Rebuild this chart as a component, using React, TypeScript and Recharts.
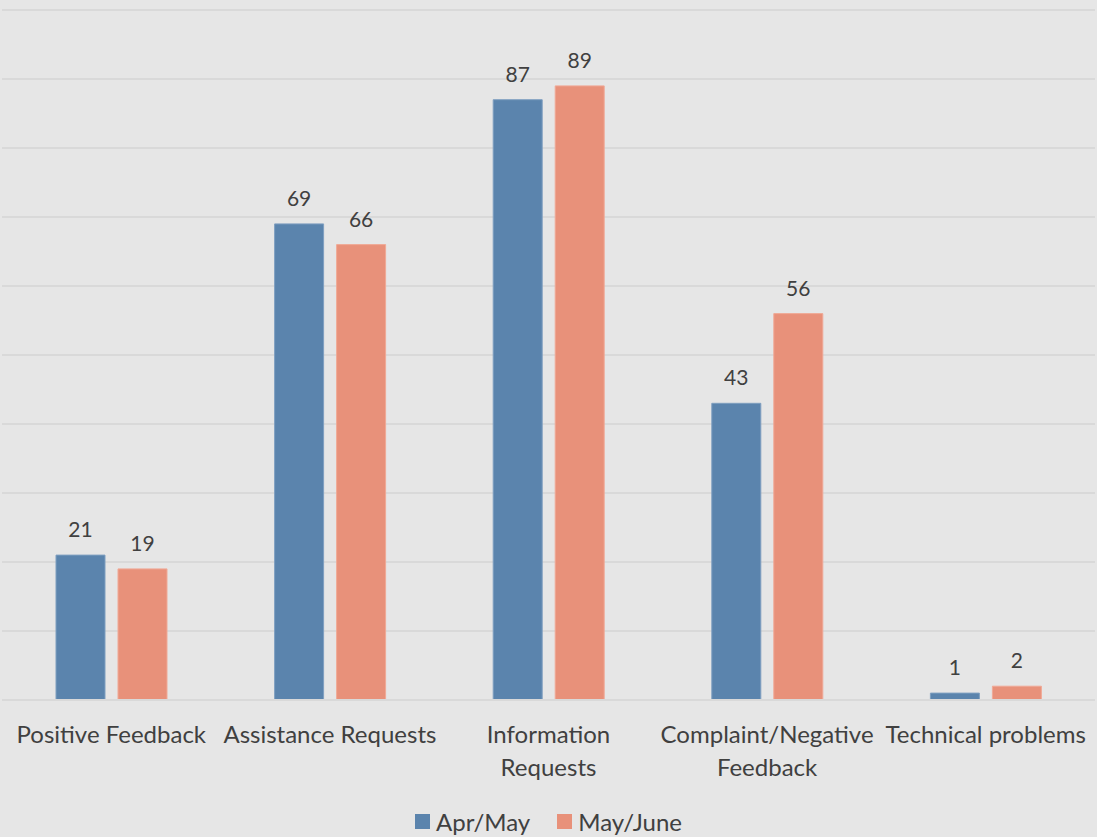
import { Bar, BarChart, CartesianGrid, LabelList, Legend, XAxis, YAxis } from "recharts"

const categories = [
  "Positive Feedback",
  "Assistance Requests",
  "Information\nRequests",
  "Complaint/Negative\nFeedback",
  "Technical problems",
]
const aprMay = [21, 69, 87, 43, 1]
const mayJune = [19, 66, 89, 56, 2]
const yTicks = [0, 10, 20, 30, 40, 50, 60, 70, 80, 90, 100]

const seriesNames = ["Apr/May", "May/June"]
const colors = ["#5b84ad", "#e8917a"]

const data = categories.map((name, i) => ({
  name,
  aprMay: aprMay[i],
  mayJune: mayJune[i],
}))

const FONT = "Lato, 'Open Sans', sans-serif"
const TEXT = "#404040"

function CategoryTick(props: any) {
  const { x, y, payload } = props
  const lines = String(payload.value).split("\n")
  return (
    <text x={x} y={y} textAnchor="middle" fill={TEXT} fontSize={24} fontFamily={FONT}>
      {lines.map((line, i) => (
        <tspan key={i} x={x} dy={i === 0 ? 41 : 33}>
          {line}
        </tspan>
      ))}
    </text>
  )
}

function LegendContent() {
  return (
    <div
      style={{
        display: "flex",
        justifyContent: "center",
        alignItems: "center",
        gap: 27,
        fontFamily: FONT,
        fontSize: 24,
        color: TEXT,
      }}
    >
      {seriesNames.map((s, i) => (
        <div key={s} style={{ display: "flex", alignItems: "center", gap: 6 }}>
          <span style={{ width: 15, height: 15, background: colors[i], display: "inline-block" }} />
          <span>{s}</span>
        </div>
      ))}
    </div>
  )
}

export default function App() {
  return (
    <div style={{ width: 1097, height: 837, background: "#e6e6e6" }}>
      <style>{"body{margin:0}"}</style>
      <BarChart
        width={1097}
        height={837}
        data={data}
        margin={{ top: 10, right: 2, left: 2, bottom: 77 }}
        barSize={49}
        barGap={13}
      >
        <CartesianGrid vertical={false} stroke="#d9d9d9" strokeWidth={2} />
        <XAxis
          dataKey="name"
          height={30}
          tick={<CategoryTick />}
          tickLine={false}
          tickSize={0}
          axisLine={{ stroke: "#d9d9d9", strokeWidth: 2 }}
          interval={0}
        />
        <YAxis hide domain={[0, 100]} ticks={yTicks} />
        <Legend
          verticalAlign="bottom"
          height={30}
          content={<LegendContent />}
          wrapperStyle={{ bottom: 0, left: 0, width: 1097 }}
        />
        <Bar dataKey="aprMay" name={seriesNames[0]} fill={colors[0]} stroke="#7f9fc0" strokeWidth={1} isAnimationActive={false}>
          <LabelList dataKey="aprMay" position="top" offset={18} fill={TEXT} fontSize={21} fontFamily={FONT} />
        </Bar>
        <Bar dataKey="mayJune" name={seriesNames[1]} fill={colors[1]} stroke="#f0a996" strokeWidth={1} isAnimationActive={false}>
          <LabelList dataKey="mayJune" position="top" offset={18} fill={TEXT} fontSize={21} fontFamily={FONT} />
        </Bar>
      </BarChart>
    </div>
  )
}
